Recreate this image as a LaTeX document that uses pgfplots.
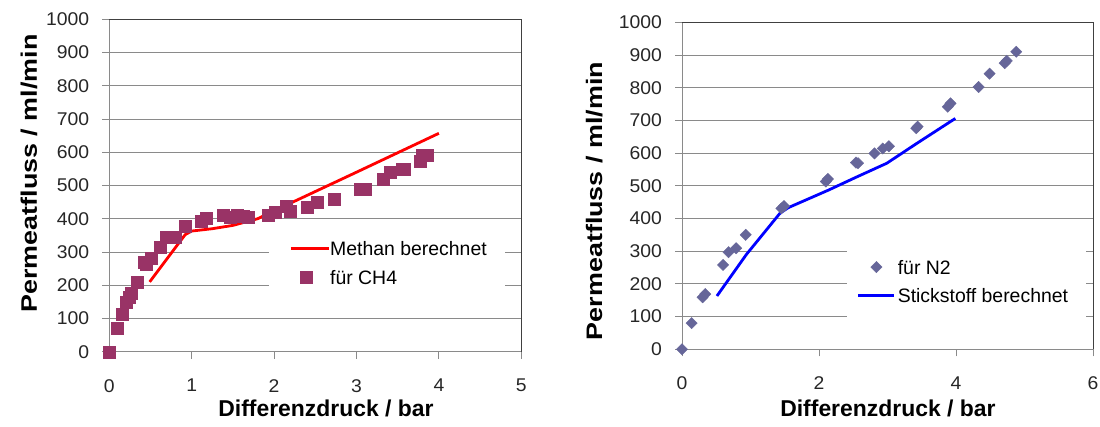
\documentclass[border=0pt]{standalone}
\usepackage{fontspec}
\setmainfont{Liberation Sans}
\usepackage{pgfplots}
\pgfplotsset{compat=1.18}
\definecolor{plum}{HTML}{993366}
\definecolor{slate}{HTML}{666699}
\definecolor{gridgray}{HTML}{8A8A8A}
\tikzset{
  xlab/.style={font=\bfseries\fontsize{23}{25}\selectfont},
  ylab/.style={font=\bfseries\fontsize{22.5}{25}\selectfont, xscale=1.2},
}
\pgfplotsset{
  mystyle/.style={
    scale only axis,
    clip=false,
    axis line style={draw=gridgray, line width=0.9bp},
    tick style={draw=gridgray, line width=0.9bp},
    tick align=outside,
    major tick length=7bp,
    tick pos=left,
    ymajorgrids,
    grid style={draw=gridgray, line width=0.9bp},
    ymin=0, ymax=1000,
    ytick={0,100,...,1000},
    /pgf/number format/assume math mode=true,
    /pgf/number format/1000 sep={},
    ticklabel style={font=\fontsize{18.5}{20}\selectfont, text=black!85, xscale=1.05},
    yticklabel style={xshift=-9bp},
    xticklabel style={yshift=-17bp},
    legend cell align=left,
  },
  lineA/.style={legend image code/.code={\path (-10bp,0bp); \draw[##1] (0bp,0bp) -- (38bp,0bp);}},
  markA/.style={legend image code/.code={\path (-10bp,0bp) (38bp,0bp); \draw[##1] plot coordinates {(15bp,0bp)};}},
  markB/.style={legend image code/.code={\path (0bp,0bp) (36bp,0bp); \draw[##1] plot coordinates {(18bp,0bp)};}},
  lineB/.style={legend image code/.code={\draw[##1] (0bp,0bp) -- (36bp,0bp);}},
}
\begin{document}
\begin{tikzpicture}
\useasboundingbox (0,0) rectangle (1100bp,427bp);
% ---------------- left ----------------
\begin{axis}[mystyle,
  at={(109.3bp,75.3bp)}, anchor=south west,
  width=412bp, height=332.4bp,
  xmin=0, xmax=5, xtick={0,1,2,3,4,5},
  xlabel={Differenzdruck / bar},
  ylabel={Permeatfluss / ml/min},
  every axis x label/.style={at={(axis description cs:0.526,-0.196)}, anchor=base, xlab},
  every axis y label/.style={at={(axis description cs:-0.1755,0.536)}, anchor=base, rotate=90, ylab},
  legend style={at={(0.388,0.381)}, anchor=north west, draw=none, fill=white,
    inner xsep=10bp, inner ysep=14bp, row sep=11.2bp,
    font=\fontsize{19.5}{21}\selectfont,
    nodes={inner xsep=0bp, inner ysep=2bp, text height=13.8bp, text depth=0bp}},
]
\addplot[red, line width=2.8bp, mark=none, lineA]
  coordinates {(0.49,210) (0.92,352) (1.0,363) (1.25,370) (1.5,380) (1.8,400) (2.2,447) (3.0,540) (4.0,657)};
\addlegendentry{Methan berechnet\hspace*{8bp}}
\addplot[only marks, mark=square*, mark size=6bp, mark options={fill=plum, draw=plum}, markA]
  coordinates {
  (0,0) (0.09,70) (0.16,112) (0.20,150) (0.24,163) (0.27,175) (0.34,210)
  (0.42,268) (0.45,262) (0.51,280) (0.62,315) (0.69,343) (0.76,343) (0.80,343)
  (0.92,378) (1.12,392) (1.17,402) (1.38,410) (1.47,405) (1.55,411) (1.62,408)
  (1.69,406) (1.93,411) (2.01,421) (2.15,438) (2.19,424) (2.40,434) (2.52,451)
  (2.73,458) (3.05,489) (3.11,489) (3.32,519) (3.41,541) (3.55,549) (3.58,550)
  (3.77,572) (3.80,590) (3.86,592)};
\addlegendentry{für CH4}
\draw[black!75, line width=0.9bp] (rel axis cs:0,1) -- (rel axis cs:1,1) -- (rel axis cs:1,0);
\end{axis}
% ---------------- right ----------------
\begin{axis}[mystyle,
  at={(682bp,77.7bp)}, anchor=south west,
  width=411bp, height=327bp,
  xmin=0, xmax=6, xtick={0,2,4,6},
  xlabel={Differenzdruck / bar},
  ylabel={Permeatfluss / ml/min},
  every axis x label/.style={at={(axis description cs:0.501,-0.207)}, anchor=base, xlab},
  every axis y label/.style={at={(axis description cs:-0.1946,0.4535)}, anchor=base, rotate=90, ylab},
  legend style={at={(0.401,0.322)}, anchor=north west, draw=none, fill=white,
    inner xsep=10bp, inner ysep=14bp, row sep=10.2bp,
    font=\fontsize{19.5}{21}\selectfont,
    nodes={inner xsep=2bp, inner ysep=2bp, text height=13.8bp, text depth=0bp}},
]
\addplot[only marks, mark=square*, mark size=4bp, mark options={fill=slate, draw=slate, rotate=45}, markB]
  coordinates {
  (0,0) (0.14,80) (0.30,159) (0.34,169) (0.60,258) (0.68,297) (0.79,309)
  (0.93,350) (1.45,431) (1.49,438) (2.10,513) (2.13,521) (2.54,571) (2.57,569)
  (2.81,599) (2.93,614) (3.02,621) (3.42,676) (3.44,681) (3.88,742) (3.92,752)
  (4.33,802) (4.49,843) (4.71,875) (4.74,882) (4.88,910)};
\addlegendentry{für N2}
\addplot[blue, line width=2.8bp, mark=none, lineB]
  coordinates {(0.51,163) (0.94,290) (1.43,416) (1.55,433) (2.14,487) (2.55,527) (2.99,569) (3.43,630) (3.99,706)};
\addlegendentry{Stickstoff berechnet\hspace*{6bp}}
\draw[black!75, line width=0.9bp] (rel axis cs:0,1) -- (rel axis cs:1,1) -- (rel axis cs:1,0);
\end{axis}
\end{tikzpicture}
\end{document}
